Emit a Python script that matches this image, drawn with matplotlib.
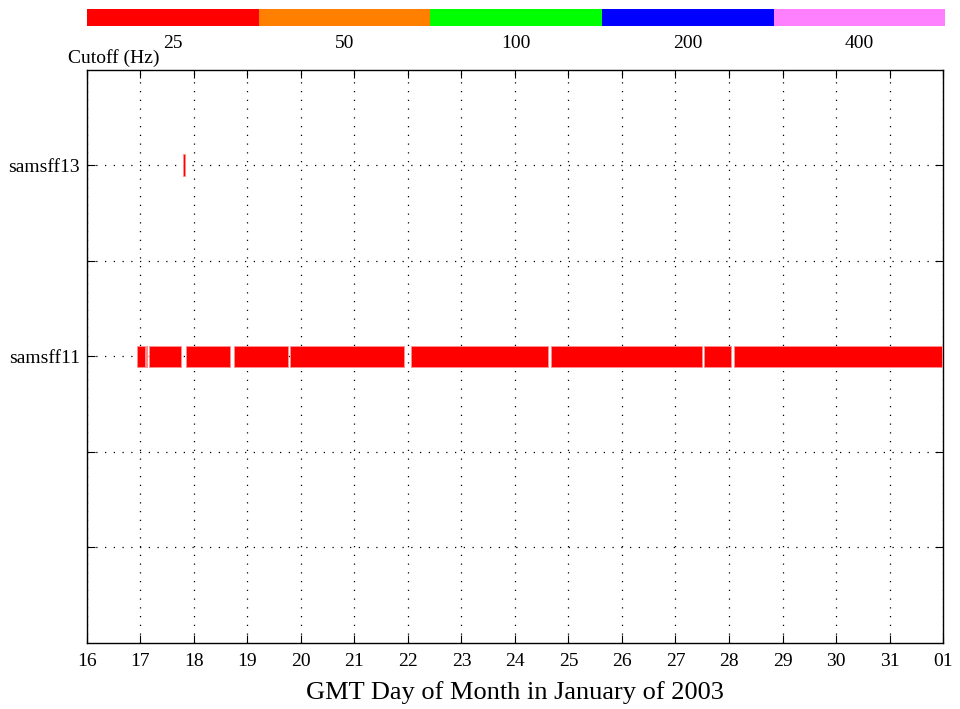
import matplotlib
matplotlib.use("Agg")
import matplotlib.pyplot as plt
import numpy as np

plt.rcParams["font.family"] = ["Liberation Serif", "DejaVu Serif"]

# cutoff colour key
cutoff_labels = ["25", "50", "100", "200", "400"]
cutoff_colors = ["#ff0000", "#ff8000", "#00ff00", "#0000ff", "#ff80ff"]

# sensors (y position counted from bottom of a 0..6 range)
sensors = ["samsff13", "samsff11"]
sensor_rows = [5, 3]

# recording spans (start day, end day), all 25 Hz cutoff
spans_samsff13 = [(17.79, 17.83)]
spans_samsff11 = [
    (16.93, 17.08), (17.10, 17.12), (17.16, 17.75), (17.85, 18.67),
    (18.74, 19.76), (19.79, 21.93), (22.05, 24.61), (24.67, 27.50),
    (27.54, 28.04), (28.09, 31.99),
]
spans = [spans_samsff13, spans_samsff11]

day_ticks = list(range(16, 33))
day_labels = [str(d) for d in range(16, 32)] + ["01"]

fig = plt.figure(figsize=(9.6, 7.09), dpi=100)
ax = fig.add_axes([0.0906, 0.0931, 0.8917, 0.8082])

bar_h = 0.23
for row, segs in zip(sensor_rows, spans):
    ax.broken_barh([(a, b - a) for a, b in segs], (row - bar_h / 2, bar_h),
                   facecolors=cutoff_colors[0], edgecolors="#ff9090", linewidth=0.6, zorder=3)

ax.set_xlim(16, 32)
ax.set_ylim(0, 6)
ax.set_xticks(day_ticks)
ax.set_xticklabels(day_labels, fontsize=14)
ax.set_yticks([1, 2, 3, 4, 5])
ax.set_yticklabels(["", "", sensors[1], "", sensors[0]], fontsize=14)
ax.tick_params(direction="in", top=True, right=True, length=6, width=0.8, pad=5)
ax.tick_params(axis="x", pad=7)
ax.grid(True, color="black", linestyle=(0, (1, 6)), linewidth=0.9)
for s in ax.spines.values():
    s.set_linewidth(1.0)
ax.set_xlabel("GMT Day of Month in January of 2003", fontsize=19, labelpad=8)

# colour key strip
kax = fig.add_axes([0.0906, 0.9633, 0.894, 0.024])
for i, c in enumerate(cutoff_colors):
    kax.barh(0, 1, left=i, height=1, color=c)
kax.set_xlim(0, len(cutoff_colors))
kax.set_ylim(-0.5, 0.5)
kax.axis("off")
for i, lab in enumerate(cutoff_labels):
    fig.text(0.0906 + 0.894 * (i + 0.5) / len(cutoff_labels), 0.938, lab,
             ha="center", va="center", fontsize=14)
fig.text(0.0708, 0.918, "Cutoff (Hz)", ha="left", va="center", fontsize=14)

fig.savefig("out.png", dpi=100)
